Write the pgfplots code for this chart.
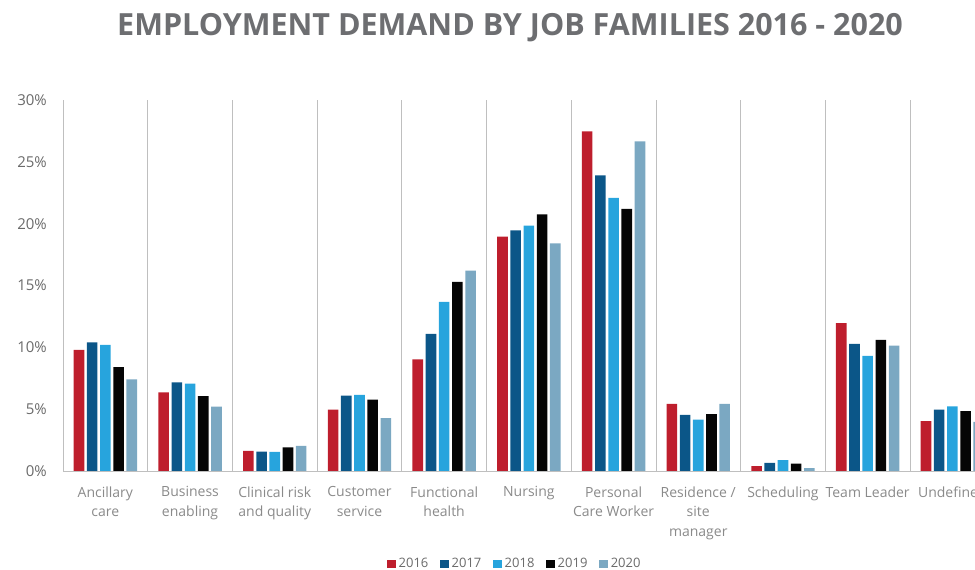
\documentclass[border=0pt]{standalone}
\usepackage{fontspec}
\setmainfont{Open Sans}
\usepackage{pgfplots}
\pgfplotsset{compat=1.18}
\definecolor{c16}{HTML}{BE1E2D}
\definecolor{c17}{HTML}{0B5688}
\definecolor{c18}{HTML}{27A4DD}
\definecolor{c19}{HTML}{050505}
\definecolor{c20}{HTML}{7BA8C2}
\definecolor{ttl}{HTML}{6D6E71}
\definecolor{gridc}{HTML}{BFBFBF}
\definecolor{ytk}{HTML}{6A6A6A}
\definecolor{xtk}{HTML}{8A8A8A}
\begin{document}
\begin{tikzpicture}[x=1pt,y=1pt]
\node[anchor=base, text=ttl, font=\fontsize{30.5}{36}\selectfont\bfseries, inner sep=0pt] at (510,534.5) {EMPLOYMENT DEMAND BY JOB FAMILIES 2016 - 2020};
\begin{axis}[
  at={(63pt,99pt)}, anchor=south west,
  scale only axis, width=931.7pt, height=371pt,
  xmin=-0.5, xmax=10.5, ymin=0, ymax=30,
  axis x line*=bottom, axis y line*=left,
  axis line style={gridc, line width=0.8pt},
  ytick={0,5,...,30},
  yticklabels={0\%,5\%,10\%,15\%,20\%,25\%,30\%},
  yticklabel style={text=ytk, font=\fontsize{15}{17}\selectfont, inner sep=0pt, xshift=-16pt},
  xtick={0,...,10},
  xticklabels={Ancillary\\care, Business\\enabling, Clinical risk\\and quality, Customer\\service, Functional\\health, Nursing, Personal\\Care Worker, Residence /\\site\\manager, Scheduling, Team Leader, Undefined},
  xticklabel style={text=xtk, align=center, font=\fontsize{14}{19.5}\selectfont, inner sep=0pt, yshift=-15.5pt},
  major tick length=0pt, minor tick length=0pt,
  minor xtick={0.5,1.5,...,10.5},
  xminorgrids, minor grid style={gridc, line width=0.8pt},
  ybar, bar width=10.6pt,
  every axis plot/.append style={draw=none},
  legend columns=5,
  legend style={at={(0.4845,-0.2507)}, anchor=center, draw=none, fill=none, inner sep=0pt,
     font=\fontsize{13}{15}\selectfont, text=ytk,
     nodes={inner sep=1pt},
     /tikz/every odd column/.append style={column sep=1.5pt},
     /tikz/every even column/.append style={column sep=11pt}},
  legend image code/.code={\fill[#1] (0pt,-4.4pt) rectangle (8.8pt,4.4pt);},
]
\addplot[fill=c16, bar shift=-26.4pt] coordinates {(0,9.8) (1,6.35) (2,1.62) (3,4.97) (4,9.03) (5,18.95) (6,27.47) (7,5.43) (8,0.4) (9,11.95) (10,4.03)};
\addplot[fill=c17, bar shift=-13.2pt] coordinates {(0,10.4) (1,7.16) (2,1.57) (3,6.1) (4,11.08) (5,19.46) (6,23.9) (7,4.54) (8,0.65) (9,10.27) (10,4.97)};
\addplot[fill=c18, bar shift=0pt] coordinates {(0,10.2) (1,7.06) (2,1.54) (3,6.16) (4,13.68) (5,19.84) (6,22.08) (7,4.16) (8,0.87) (9,9.3) (10,5.22)};
\addplot[fill=c19, bar shift=13.2pt] coordinates {(0,8.4) (1,6.06) (2,1.92) (3,5.78) (4,15.3) (5,20.76) (6,21.2) (7,4.6) (8,0.6) (9,10.6) (10,4.84)};
\addplot[fill=c20, bar shift=26.4pt] coordinates {(0,7.4) (1,5.2) (2,2.03) (3,4.27) (4,16.2) (5,18.4) (6,26.66) (7,5.43) (8,0.24) (9,10.14) (10,3.97)};
\legend{2016,2017,2018,2019,2020}
\end{axis}
\pgfresetboundingbox
\useasboundingbox (0,0) rectangle (975,570);
\end{tikzpicture}
\end{document}
